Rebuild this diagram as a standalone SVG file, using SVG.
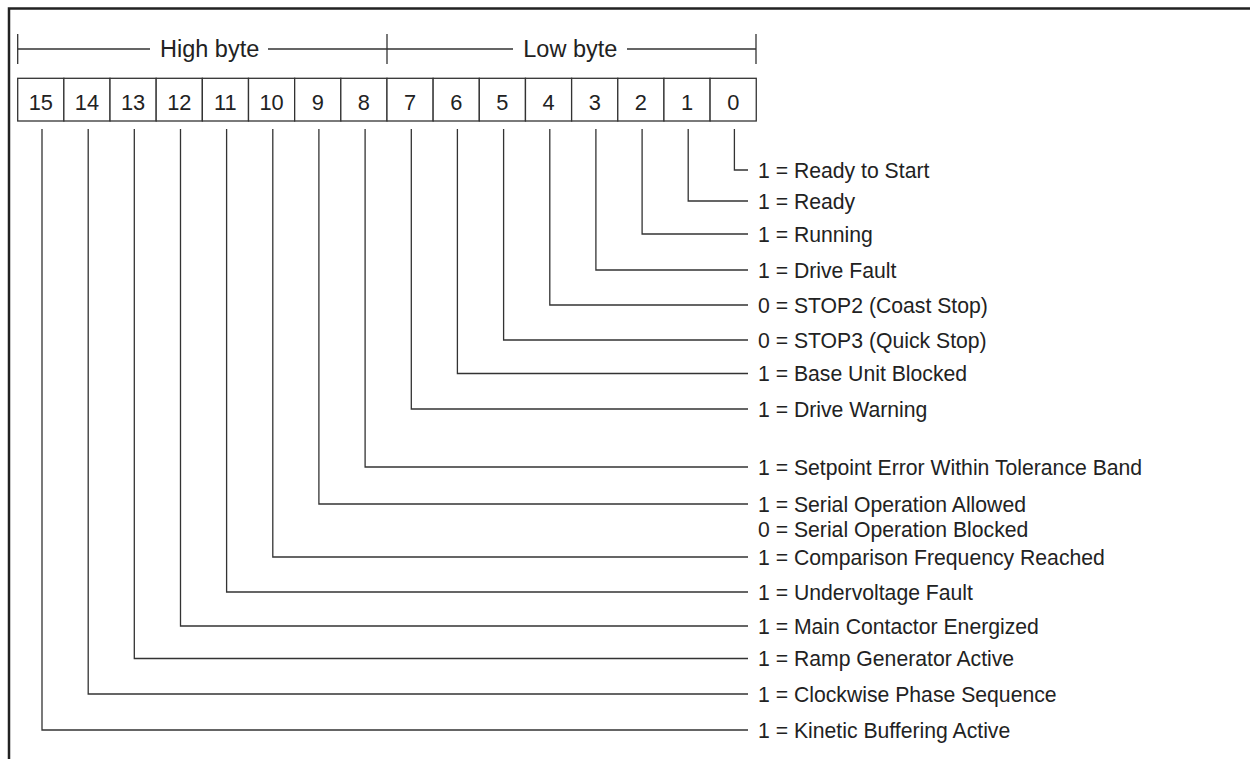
<svg xmlns="http://www.w3.org/2000/svg" width="1250" height="759" viewBox="0 0 1250 759">
<style>
.t{font-family:"Liberation Sans",Arial,sans-serif;fill:#222}
.lab{font-size:21.2px}
.num{font-size:21.8px;text-anchor:middle}
.hdr{font-size:23.5px}
.cell{fill:#fff;stroke:#333;stroke-width:1.3}
.ln{fill:none;stroke:#333;stroke-width:1.3}
.frame{fill:none;stroke:#222;stroke-width:2.5}
</style>
<rect width="1250" height="759" fill="#fff"/>
<path class="frame" d="M9,759 V8.5 H1250"/>
<g id="header">
<path class="ln" d="M17.7,34 V64 M387,34 V64 M756,34 V64 M17.7,49 H150 M268,49 H387 M387,49 H513 M627,49 H756"/>
<text class="t hdr" x="160" y="57.3">High byte</text>
<text class="t hdr" x="523.3" y="57.3">Low byte</text>
</g>
<g id="bits">
<g id="bit15"><rect class="cell" x="17.7" y="78.3" width="46.16" height="42.7"/><text class="t num" x="40.8" y="109.5">15</text></g>
<g id="bit14"><rect class="cell" x="63.86" y="78.3" width="46.16" height="42.7"/><text class="t num" x="86.9" y="109.5">14</text></g>
<g id="bit13"><rect class="cell" x="110.02" y="78.3" width="46.16" height="42.7"/><text class="t num" x="133.1" y="109.5">13</text></g>
<g id="bit12"><rect class="cell" x="156.18" y="78.3" width="46.16" height="42.7"/><text class="t num" x="179.3" y="109.5">12</text></g>
<g id="bit11"><rect class="cell" x="202.34" y="78.3" width="46.16" height="42.7"/><text class="t num" x="225.4" y="109.5">11</text></g>
<g id="bit10"><rect class="cell" x="248.5" y="78.3" width="46.16" height="42.7"/><text class="t num" x="271.6" y="109.5">10</text></g>
<g id="bit9"><rect class="cell" x="294.66" y="78.3" width="46.16" height="42.7"/><text class="t num" x="317.7" y="109.5">9</text></g>
<g id="bit8"><rect class="cell" x="340.82" y="78.3" width="46.16" height="42.7"/><text class="t num" x="363.9" y="109.5">8</text></g>
<g id="bit7"><rect class="cell" x="386.98" y="78.3" width="46.16" height="42.7"/><text class="t num" x="410.1" y="109.5">7</text></g>
<g id="bit6"><rect class="cell" x="433.14" y="78.3" width="46.16" height="42.7"/><text class="t num" x="456.2" y="109.5">6</text></g>
<g id="bit5"><rect class="cell" x="479.3" y="78.3" width="46.16" height="42.7"/><text class="t num" x="502.4" y="109.5">5</text></g>
<g id="bit4"><rect class="cell" x="525.46" y="78.3" width="46.16" height="42.7"/><text class="t num" x="548.5" y="109.5">4</text></g>
<g id="bit3"><rect class="cell" x="571.62" y="78.3" width="46.16" height="42.7"/><text class="t num" x="594.7" y="109.5">3</text></g>
<g id="bit2"><rect class="cell" x="617.78" y="78.3" width="46.16" height="42.7"/><text class="t num" x="640.9" y="109.5">2</text></g>
<g id="bit1"><rect class="cell" x="663.94" y="78.3" width="46.16" height="42.7"/><text class="t num" x="687.0" y="109.5">1</text></g>
<g id="bit0"><rect class="cell" x="710.1" y="78.3" width="46.16" height="42.7"/><text class="t num" x="733.2" y="109.5">0</text></g>
</g>
<g id="connectors" class="ln">
<path class="ln" d="M734.4,129 V170 H748"/>
<path class="ln" d="M688.2,129 V201 H748"/>
<path class="ln" d="M642.1,129 V234 H748"/>
<path class="ln" d="M595.9,129 V270 H748"/>
<path class="ln" d="M549.8,129 V305 H748"/>
<path class="ln" d="M503.6,129 V340 H748"/>
<path class="ln" d="M457.4,129 V373.5 H748"/>
<path class="ln" d="M411.3,129 V409 H748"/>
<path class="ln" d="M365.1,129 V467 H748"/>
<path class="ln" d="M318.9,129 V504 H748"/>
<path class="ln" d="M272.8,129 V557 H748"/>
<path class="ln" d="M226.6,129 V592 H748"/>
<path class="ln" d="M180.5,129 V626 H748"/>
<path class="ln" d="M134.3,129 V658.5 H748"/>
<path class="ln" d="M88.2,129 V694 H748"/>
<path class="ln" d="M42,129 V730 H748"/>
</g>
<g id="labels">
<g id="label0"><text class="t lab" x="758" y="177.5">1 = Ready to Start</text></g>
<g id="label1"><text class="t lab" x="758" y="208.5">1 = Ready</text></g>
<g id="label2"><text class="t lab" x="758" y="241.5">1 = Running</text></g>
<g id="label3"><text class="t lab" x="758" y="277.5">1 = Drive Fault</text></g>
<g id="label4"><text class="t lab" x="758" y="312.5">0 = STOP2 (Coast Stop)</text></g>
<g id="label5"><text class="t lab" x="758" y="347.5">0 = STOP3 (Quick Stop)</text></g>
<g id="label6"><text class="t lab" x="758" y="381">1 = Base Unit Blocked</text></g>
<g id="label7"><text class="t lab" x="758" y="416.5">1 = Drive Warning</text></g>
<g id="label8"><text class="t lab" x="758" y="474.5">1 = Setpoint Error Within Tolerance Band</text></g>
<g id="label9"><text class="t lab" x="758" y="511.5">1 = Serial Operation Allowed</text><text class="t lab" x="758" y="537">0 = Serial Operation Blocked</text></g>
<g id="label10"><text class="t lab" x="758" y="564.5">1 = Comparison Frequency Reached</text></g>
<g id="label11"><text class="t lab" x="758" y="599.5">1 = Undervoltage Fault</text></g>
<g id="label12"><text class="t lab" x="758" y="633.5">1 = Main Contactor Energized</text></g>
<g id="label13"><text class="t lab" x="758" y="666">1 = Ramp Generator Active</text></g>
<g id="label14"><text class="t lab" x="758" y="701.5">1 = Clockwise Phase Sequence</text></g>
<g id="label15"><text class="t lab" x="758" y="737.5">1 = Kinetic Buffering Active</text></g>
</g>
</svg>
